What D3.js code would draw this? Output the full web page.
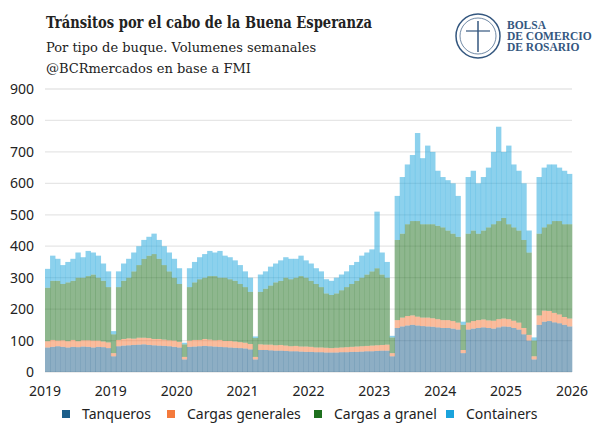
<!DOCTYPE html>
<html><head><meta charset="utf-8">
<script src="https://cdn.jsdelivr.net/npm/d3@7"></script>
<style>body{margin:0;background:#fff}</style>
</head><body>
<svg id="c" width="600" height="434"></svg>
<script>
// weekly-ish volumes (one bar ~ 3.5 weeks)
const tanqueros = [78,80,82,80,78,80,79,81,80,78,80,79,76, 50,
  82,84,85,86,87,88,86,85,84,83,82,80,78, 40,
  80,81,82,83,82,81,80,79,78,77,76,75,72, 40,
  70,70,69,68,68,67,66,66,65,64,64,63,
  63,62,62,62,63,63,64,64,65,66,66,67,68,68, 50,
  140,145,148,150,148,146,145,144,142,140,140,138,135, 60,
  135,138,140,142,140,138,142,145,144,140,135,120,100, 40,
  150,160,162,158,155,150,145]
const generales = [20,22,18,21,20,22,19,20,21,22,20,18,18, 10,
  20,21,22,20,22,21,22,20,21,20,19,20,18, 8,
  20,21,20,22,21,20,22,20,21,20,19,18,17, 8,
  18,17,18,17,18,17,16,17,16,17,16,15,
  15,15,14,15,15,16,16,17,17,17,18,18,18,19, 10,
  25,28,30,30,28,27,28,27,26,25,25,24,22, 10,
  22,24,25,25,24,25,26,25,24,23,22,20,18, 10,
  30,35,32,30,28,25,25]
const granel = [170,188,190,179,187,188,202,199,204,210,200,193,176, 60,
  168,185,193,214,231,251,262,270,255,237,219,200,184, 40,
  170,183,193,195,202,204,198,201,196,193,185,177,166, 60,
  167,178,188,200,204,216,213,217,224,219,210,202,
  192,173,169,173,182,191,200,209,218,227,236,245,224,213, 50,
  255,267,292,300,304,297,297,299,297,295,285,278,273, 80,
  283,288,275,283,296,307,312,320,302,297,293,280,262, 50,
  260,265,276,292,297,295,300]
const containers = [60,80,70,60,65,70,80,65,80,70,70,55,50, 10,
  50,55,60,60,60,60,60,65,60,60,60,60,50, 5,
  60,65,70,75,80,75,85,70,70,65,60,50,45, 5,
  55,55,60,60,65,65,65,60,65,55,55,50,
  50,45,45,50,50,50,60,60,70,70,70,180,70,50, 5,
  140,180,190,210,280,210,250,230,175,160,160,160,130, 10,
  180,190,160,170,190,230,300,210,250,200,190,180,70, 10,
  180,190,190,180,170,170,160]
const xLabels = ['2019','2019','2020','2021','2022','2023','2024','2025','2026']
const yTicks = [0,100,200,300,400,500,600,700,800,900]
const seriesNames = ['Tanqueros','Cargas generales','Cargas a granel','Containers']
const colors = ['#1b5e8a','#f47a3c','#1e701e','#1aa3dc']

const svg = d3.select('#c')
const L = 45, R = 572, T = 89, B = 372

const rows = tanqueros.map((t, i) => ({i, t, g: generales[i], b: granel[i], c: containers[i]}))
const stack = d3.stack().keys(['t','g','b','c'])(rows)

const x = d3.scaleBand().domain(rows.map(d => d.i)).range([L, R]).padding(0)
const y = d3.scaleLinear().domain([0, 900]).range([B, T])

// grid
svg.append('g').selectAll('line').data(yTicks).join('line')
  .attr('x1', L).attr('x2', R).attr('y1', d => y(d)).attr('y2', d => y(d))
  .attr('stroke', '#e6e6e6').attr('stroke-width', 1.3)
svg.append('g').selectAll('text').data(yTicks).join('text')
  .attr('x', 34).attr('y', d => y(d) + 5).attr('text-anchor', 'end')
  .attr('font-family', 'Noto Sans').attr('font-size', 14).attr('fill', '#222')
  .text(d => d)

// bars
stack.forEach((s, k) => {
  svg.append('g').attr('fill', colors[k]).attr('fill-opacity', 0.5)
    .selectAll('rect').data(s).join('rect')
    .attr('x', (d, i) => x(i)).attr('width', x.bandwidth() + 0.3)
    .attr('y', d => y(d[1])).attr('height', d => y(d[0]) - y(d[1]))
})

// x labels
const xl = d3.scalePoint().domain(d3.range(xLabels.length)).range([L, R])
svg.append('g').selectAll('text').data(xLabels).join('text')
  .attr('x', (d, i) => xl(i)).attr('y', 396).attr('text-anchor', 'middle')
  .attr('font-family', 'Noto Sans').attr('font-size', 14).attr('fill', '#222')
  .text(d => d)

// legend
const lx = [62, 167, 314, 446]
seriesNames.forEach((n, k) => {
  svg.append('rect').attr('x', lx[k]).attr('y', 410).attr('width', 8).attr('height', 8).attr('fill', colors[k])
  svg.append('text').attr('x', lx[k] + 20).attr('y', 419)
    .attr('font-family', 'Noto Sans').attr('font-size', 14).attr('fill', '#222').text(n)
})

// titles
svg.append('text').attr('x', 46).attr('y', 28).attr('font-family', 'DejaVu Serif')
  .attr('font-weight', 'bold').attr('font-size', 16).attr('fill', '#222')
  .attr('textLength', 326).attr('lengthAdjust', 'spacingAndGlyphs')
  .text('Tránsitos por el cabo de la Buena Esperanza')
svg.append('text').attr('x', 46).attr('y', 52).attr('font-family', 'DejaVu Serif')
  .attr('font-size', 13).attr('fill', '#222').text('Por tipo de buque. Volumenes semanales')
svg.append('text').attr('x', 46).attr('y', 73).attr('font-family', 'DejaVu Serif')
  .attr('font-size', 13).attr('fill', '#222').text('@BCRmercados en base a FMI')

// logo
const lg = svg.append('g').attr('fill', '#34577f')
svg.append('circle').attr('cx', 478).attr('cy', 36).attr('r', 22)
  .attr('fill', 'none').attr('stroke', '#34577f').attr('stroke-width', 1.5)
svg.append('circle').attr('cx', 478).attr('cy', 36).attr('r', 18)
  .attr('fill', 'none').attr('stroke', '#34577f').attr('stroke-width', 0.7)
svg.append('line').attr('x1', 478).attr('x2', 478).attr('y1', 21).attr('y2', 52).attr('stroke', '#34577f').attr('stroke-width', 1.5)
svg.append('line').attr('x1', 466).attr('x2', 490).attr('y1', 31).attr('y2', 31).attr('stroke', '#34577f').attr('stroke-width', 1.2)
;['BOLSA','DE COMERCIO','DE ROSARIO'].forEach((t, i) => {
  lg.append('text').attr('x', 507).attr('y', 29 + i * 11)
    .attr('font-family', 'Liberation Serif').attr('font-weight', 'bold').attr('font-size', 11.5).text(t)
})
</script>
</body></html>
